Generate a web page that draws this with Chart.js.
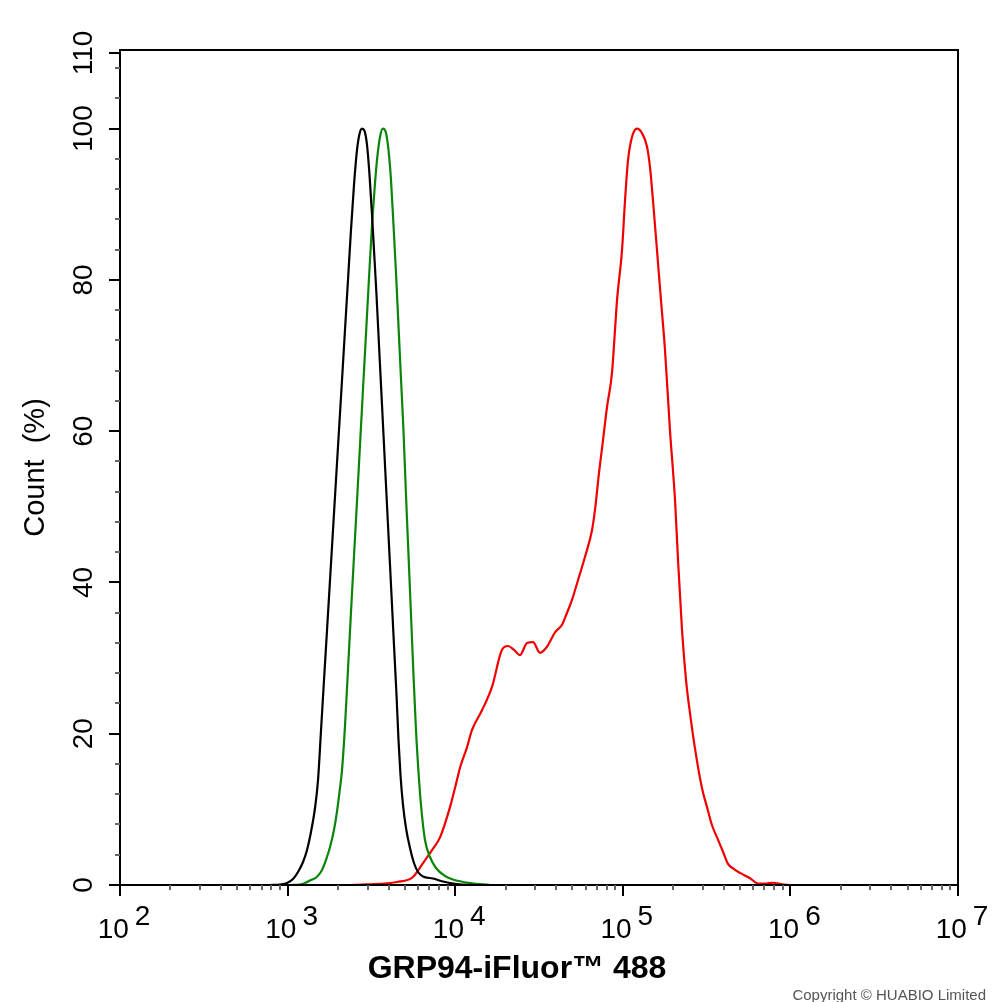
<!DOCTYPE html>
<html>
<head>
<meta charset="utf-8">
<script src="https://cdn.jsdelivr.net/npm/chart.js@4.4.1/dist/chart.umd.min.js"></script>
<style>
html,body{margin:0;padding:0;background:#fff;}
canvas{display:block;}
</style>
</head>
<body>
<canvas id="c" width="994" height="1002"></canvas>
<script>
// ---- data (fluorescence intensity, count %) ----
const blackX = [785, 901, 992, 1077, 1154, 1236, 1306, 1379, 1457, 1519, 1583, 1649, 1719, 1791, 1866, 1944, 2026, 2112, 2200, 2293, 2389, 2490, 2595, 2685, 2779, 2876, 2977, 3081, 3189, 3277, 3392, 3510, 3633, 3760, 3891, 4027, 4168, 4313, 4465, 4589, 4716, 4881, 5086, 5374, 5677, 5998, 6425, 7372, 8458, 10250, 13130];
const blackY = [0, 0.07, 0.26, 0.79, 1.72, 3.04, 4.63, 7.01, 10.18, 13.88, 20.49, 27.11, 33.72, 40.33, 46.94, 53.55, 60.16, 66.77, 73.38, 80.0, 86.61, 92.56, 97.18, 99.3, 100, 99.7, 97.85, 93.88, 88.59, 83.96, 78.01, 71.4, 64.79, 58.18, 51.57, 44.96, 38.34, 31.73, 25.12, 19.17, 14.54, 10.58, 7.54, 4.89, 2.91, 1.72, 1.12, 0.86, 0.46, 0.13, 0];

const greenX = [1033, 1186, 1270, 1379, 1498, 1605, 1695, 1791, 1891, 1971, 2054, 2112, 2200, 2293, 2389, 2490, 2595, 2704, 2818, 2936, 3060, 3189, 3300, 3415, 3559, 3709, 3865, 3999, 4139, 4284, 4434, 4589, 4749, 4915, 5086, 5265, 5449, 5638, 5835, 6040, 6250, 6603, 7073, 7680, 8692, 9703, 12250, 16130];
const greenY = [0, 0.07, 0.26, 0.66, 1.1, 1.98, 3.31, 5.02, 7.27, 9.7, 12.8, 15.2, 21.0, 28.5, 36.1, 43.5, 50.77, 58.18, 65.58, 72.85, 80.26, 87.27, 91.9, 95.86, 98.9, 100, 99.43, 97.18, 93.22, 87.27, 80.92, 73.91, 66.9, 60.03, 51.57, 43.63, 35.7, 27.77, 20.49, 14.94, 10.58, 5.95, 3.7, 2.25, 1.19, 0.73, 0.26, 0];

const redX = [2357, 2977, 4495, 5601, 6425, 7272, 8118, 9311, 10250, 10680, 11760, 12600, 14450, 16580, 19020, 20650, 22430, 24360, 26820, 29120, 32060, 35290, 39410, 43380, 46480, 49770, 54040, 59510, 65490, 68250, 72110, 76190, 80500, 86210, 89850, 92350, 98900, 103100, 107400, 113500, 121500, 130200, 139500, 145300, 151400, 160000, 169000, 178600, 191200, 204900, 213500, 225600, 238400, 251800, 273400, 296900, 318100, 340600, 364900, 396200, 424400, 460700, 500400, 574000, 640900, 715200, 787400, 891000, 994500];
const redY = [0, 0.07, 0.4, 1.06, 2.9, 4.6, 6.3, 10.3, 13.9, 15.5, 18.2, 20.5, 23.1, 26.2, 31.1, 31.6, 31.1, 30.4, 32.0, 32.1, 30.7, 31.5, 33.4, 34.4, 36.0, 37.7, 40.3, 43.4, 46.9, 49.6, 54.5, 58.8, 63.2, 67.7, 73.4, 77.3, 83.9, 90.5, 95.8, 98.9, 100, 99.4, 97.6, 94.9, 90.5, 83.9, 77.3, 70.7, 60.1, 50.9, 43.0, 33.7, 27.1, 22.7, 17.2, 12.8, 10.3, 7.9, 6.3, 4.4, 2.8, 2.1, 1.6, 0.9, 0.2, 0.2, 0.3, 0.1, 0];

const xMajorExponents = [2, 3, 4, 5, 6, 7];
const yMajorTicks = [0, 20, 40, 60, 80, 100, 110];
const yMinorStep = 4;
const xTitle = 'GRP94-iFluor\u2122 488';
const yTitle = 'Count  (%)';
const copyright = 'Copyright \u00A9 HUABIO Limited';

function pts(xs, ys) { return xs.map((x, i) => ({ x: x, y: ys[i] })); }

const FONT = '"Liberation Sans", Arial, Helvetica, sans-serif';

const axesPlugin = {
  id: 'axesPlugin',
  afterDatasetsDraw(chart) {
    const ctx = chart.ctx;
    const xs = chart.scales.x, ys = chart.scales.y;
    const a = chart.chartArea;
    ctx.save();
    // frame
    ctx.strokeStyle = '#000';
    ctx.lineWidth = 2;
    ctx.beginPath();
    ctx.rect(a.left, a.top, a.right - a.left, a.bottom - a.top);
    ctx.stroke();

    // y minor ticks
    ctx.strokeStyle = '#666';
    ctx.lineWidth = 2;
    for (let v = 0; v <= 110; v += yMinorStep) {
      if (yMajorTicks.includes(v)) continue;
      const py = Math.round(ys.getPixelForValue(v));
      ctx.beginPath(); ctx.moveTo(a.left - 5, py); ctx.lineTo(a.left, py); ctx.stroke();
    }
    // y major ticks
    ctx.strokeStyle = '#000';
    yMajorTicks.forEach(v => {
      const py = Math.round(ys.getPixelForValue(v));
      ctx.beginPath(); ctx.moveTo(a.left - 11, py); ctx.lineTo(a.left, py); ctx.stroke();
    });
    // x minor ticks
    ctx.strokeStyle = '#666';
    for (let e = xMajorExponents[0]; e < xMajorExponents[xMajorExponents.length - 1]; e++) {
      for (let m = 2; m <= 9; m++) {
        const px = Math.round(xs.getPixelForValue(m * Math.pow(10, e)));
        ctx.beginPath(); ctx.moveTo(px, a.bottom); ctx.lineTo(px, a.bottom + 5); ctx.stroke();
      }
    }
    // x major ticks
    ctx.strokeStyle = '#000';
    xMajorExponents.forEach(e => {
      const px = Math.round(xs.getPixelForValue(Math.pow(10, e)));
      ctx.beginPath(); ctx.moveTo(px, a.bottom); ctx.lineTo(px, a.bottom + 11); ctx.stroke();
    });

    // x labels 10^n
    ctx.fillStyle = '#000';
    ctx.font = '28px ' + FONT;
    ctx.textBaseline = 'alphabetic';
    xMajorExponents.forEach(e => {
      const px = xs.getPixelForValue(Math.pow(10, e));
      const base = '10', sup = String(e);
      const wb = ctx.measureText(base).width, ws = ctx.measureText(sup).width;
      const gap = 6;
      const total = wb + gap + ws;
      const x0 = px + 4 - total / 2;
      ctx.textAlign = 'left';
      ctx.fillText(base, x0, a.bottom + 53);
      ctx.fillText(sup, x0 + wb + gap, a.bottom + 40);
    });

    // y labels rotated
    yMajorTicks.forEach(v => {
      const py = ys.getPixelForValue(v);
      ctx.save();
      ctx.translate(a.left - 28, py);
      ctx.rotate(-Math.PI / 2);
      ctx.textAlign = 'center';
      ctx.textBaseline = 'alphabetic';
      ctx.font = '28px ' + FONT;
      ctx.fillText(String(v), 0, 0);
      ctx.restore();
    });

    // y title
    ctx.save();
    ctx.translate(44, (a.top + a.bottom) / 2);
    ctx.rotate(-Math.PI / 2);
    ctx.textAlign = 'center';
    ctx.font = '29px ' + FONT;
    ctx.fillText(yTitle, 0, 0);
    ctx.restore();

    // x title
    ctx.textAlign = 'center';
    ctx.font = 'bold 32px ' + FONT;
    ctx.fillText(xTitle, 517, 978);

    // copyright
    ctx.textAlign = 'right';
    ctx.font = '15px ' + FONT;
    ctx.fillStyle = '#555';
    ctx.fillText(copyright, 986, 1000);
    ctx.restore();
  }
};

const ds = (label, xs, ys, color) => ({
  label: label,
  data: pts(xs, ys),
  showLine: true,
  borderColor: color,
  backgroundColor: color,
  borderWidth: 2.2,
  pointRadius: 0,
  cubicInterpolationMode: 'monotone',
  fill: false
});

new Chart(document.getElementById('c'), {
  type: 'scatter',
  data: {
    datasets: [
      ds('Black', blackX, blackY, '#000000'),
      ds('Green', greenX, greenY, '#0a850a'),
      ds('Red', redX, redY, '#f00000')
    ]
  },
  options: {
    responsive: false,
    animation: false,
    events: [],
    layout: { padding: { left: 120, top: 50, right: 36, bottom: 117 } },
    plugins: { legend: { display: false }, tooltip: { enabled: false } },
    scales: {
      x: { type: 'logarithmic', min: 100, max: 1e7, display: false },
      y: { type: 'linear', min: 0, max: 110.4, display: false }
    }
  },
  plugins: [axesPlugin]
});
</script>
</body>
</html>
